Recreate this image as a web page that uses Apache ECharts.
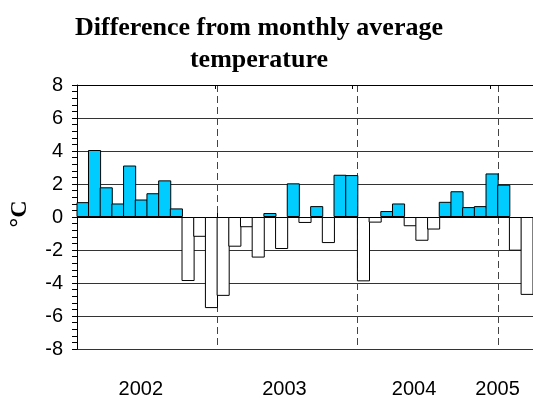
<!DOCTYPE html>
<html>
<head>
<meta charset="utf-8">
<script src="https://cdn.jsdelivr.net/npm/echarts@6/dist/echarts.min.js"></script>
<style>html,body{margin:0;padding:0;background:#fff}#c{width:533px;height:399px}</style>
</head>
<body>
<div id="c"></div>
<script>
// Monthly categories Jan 2002 .. Mar 2005
const years = ['2002', '2003', '2004', '2005'];
const months = [];
for (const y of years) for (let m = 1; m <= 12; m++) if (months.length < 39) months.push(y + '-' + String(m).padStart(2, '0'));

// Temperature difference (°C) from the monthly average
const diff2002 = [0.9, 4.06, 1.8, 0.82, 3.12, 1.06, 1.44, 2.22, 0.52, -3.88, -1.2, -5.52];
const diff2003 = [-4.78, -1.8, -0.62, -2.46, 0.24, -1.94, 2.04, -0.36, 0.66, -1.58, 2.56, 2.54];
const diff2004 = [-3.9, -0.34, 0.36, 0.82, -0.56, -1.44, -0.76, 0.92, 1.56, 0.6, 0.66, 2.64];
const diff2005 = [1.96, -2.04, -4.72];
const values = [].concat(diff2002, diff2003, diff2004, diff2005);

// Year tick labels and where they sit (in months from Jan 2002)
const yearLabels = ['2002', '2003', '2004', '2005'];
const yearLabelMonth = [5.46, 17.74, 28.83, 35.97];

const chart = echarts.init(document.getElementById('c'), null, {renderer: 'canvas'});
chart.setOption({
  animation: false,
  backgroundColor: '#fff',
  title: {
    text: 'Difference from monthly average\ntemperature',
    left: 254, top: 7, textAlign: 'center',
    textStyle: {fontFamily: 'Liberation Serif', fontWeight: 'bold', fontSize: 26, lineHeight: 32, color: '#000'}
  },
  grid: {left: 77, top: 85, right: 0, bottom: 48},
  xAxis: [
    {
      type: 'category', data: months, boundaryGap: true, position: 'bottom',
      axisLine: {lineStyle: {color: '#000', width: 1}},
      axisTick: {show: true, inside: true, length: 4, interval: (i) => i % 12 === 0, lineStyle: {color: '#000'}},
      axisLabel: {show: false},
      splitLine: {show: true, interval: (i) => i % 12 === 0 && i > 0, lineStyle: {color: '#444', type: [7, 4], width: 1}}
    },
    {
      type: 'value', position: 'top', min: 0, max: 3.31, interval: 1,
      axisLine: {show: true, onZero: false, lineStyle: {color: '#000'}},
      axisTick: {show: true, inside: true, length: 4, lineStyle: {color: '#000'}},
      axisLabel: {show: false}, splitLine: {show: false}
    },
    {
      type: 'value', position: 'bottom', min: 0, max: 39,
      axisLine: {show: false}, axisTick: {show: false}, splitLine: {show: false},
      axisLabel: {
        show: true, margin: 30, customValues: yearLabelMonth,
        fontFamily: 'Liberation Sans', fontSize: 20, color: '#000',
        formatter: (v) => { const k = yearLabelMonth.findIndex(m => Math.abs(m - v) < 0.01); return k >= 0 ? yearLabels[k] : ''; }
      }
    }
  ],
  yAxis: {
    type: 'value', min: -8, max: 8, interval: 2,
    name: '°C', nameLocation: 'middle', nameRotate: 90, nameGap: 45,
    nameTextStyle: {fontFamily: 'Liberation Serif', fontWeight: 'bold', fontSize: 24, color: '#000', padding: [0, 0, 0, 6]},
    axisLine: {show: true, onZero: false, lineStyle: {color: '#000'}},
    axisTick: {show: true, length: 5, lineStyle: {color: '#000'}},
    minorTick: {show: true, splitNumber: 5, length: 5, lineStyle: {color: '#000'}},
    axisLabel: {margin: 14, fontFamily: 'Liberation Sans', fontSize: 20, color: '#000'},
    splitLine: {show: true, lineStyle: {color: '#333', width: 1}}
  },
  series: [{
    type: 'bar', xAxisIndex: 0, data: values,
    barWidth: '112%',
    itemStyle: {
      borderColor: '#000', borderWidth: 1,
      color: (p) => p.value >= 0 ? '#00CCFF' : '#ffffff'
    }
  }]
});
</script>
</body>
</html>
